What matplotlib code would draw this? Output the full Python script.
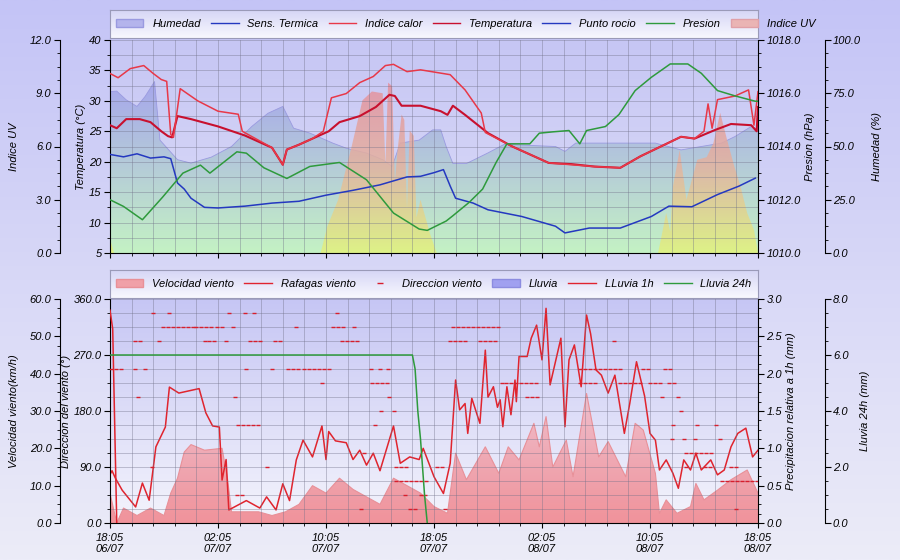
import numpy as np
import matplotlib
matplotlib.use('Agg')
import matplotlib.pyplot as plt
from matplotlib.colors import LinearSegmentedColormap
from matplotlib.patches import Patch, Polygon
from matplotlib.lines import Line2D

plt.rcParams['font.family'] = ['Liberation Sans', 'DejaVu Sans']
plt.rcParams['font.size'] = 8

# hours since 18:05 06/07
tick_labels = ['18:05\n06/07', '02:05\n07/07', '10:05\n07/07', '18:05\n07/07',
               '02:05\n08/07', '10:05\n08/07', '18:05\n08/07']

# ---- top panel data ----
temp_h = [0, 0.5, 1.2, 2.2, 3.0, 3.8, 4.3, 4.6, 5.0, 6.0, 8.0, 10.0, 12.0, 12.8, 13.1, 14.0, 15.0,
          16.2, 17.0, 18.5, 19.7, 20.7, 21.1, 21.6, 23.0, 24.5, 25.0, 25.4, 26.3, 28.0, 29.8, 32.5,
          34.2, 35.9, 37.8, 39.3, 40.8, 42.3, 43.3, 44.8, 46.0, 47.5, 47.9, 48.0]
temp = [26, 25.5, 27, 27, 26.5, 25, 24.2, 24.0, 27.5, 27, 25.8, 24.3, 22.3, 19.5, 22, 22.8, 23.8,
        25, 26.5, 27.5, 29, 31, 30.8, 29.2, 29.2, 28.3, 27.7, 29.2, 27.7, 24.7, 22.5, 19.8,
        19.6, 19.2, 19.0, 20.9, 22.5, 24.1, 23.8, 25.2, 26.2, 26.0, 25.0, 29.0]

calor_h = [0, 0.6, 1.5, 2.5, 3.2, 3.8, 4.2, 4.5, 4.7, 5.2, 6.5, 8.0, 9.5, 9.8, 12.0, 12.8, 13.1,
           14.0, 15.0, 15.8, 16.4, 17.5, 18.5, 19.5, 20.4, 21.0, 22.0, 23.0, 25.2, 26.3, 27.5, 27.8,
           29.8, 32.5, 35.9, 37.8, 39.3, 40.8, 42.3, 43.3, 44.0, 44.3, 44.6, 45.0, 46.3, 47.3, 47.7, 48.0]
calor = [34.5, 33.8, 35.3, 35.8, 34.5, 33.5, 33.2, 24.5, 24, 32, 30, 28.3, 27.8, 25, 22.3, 19.5, 22,
         22.8, 23.8, 25, 30.5, 31.2, 33, 34, 35.8, 36, 34.8, 35.1, 34.3, 31.8, 28, 24.8,
         22.5, 19.8, 19.2, 19.0, 20.9, 22.5, 24.1, 23.8, 25.0, 29.5, 25.5, 30.2, 30.8, 31.8, 26.0, 31.5]

rocio_h = [0, 1, 2, 3, 4, 4.5, 5, 5.5, 6, 7, 8, 10, 12, 14, 16, 18, 20, 22, 23, 24, 24.7, 25.2,
           25.6, 26.9, 28, 30.5, 33, 33.7, 35.5, 37.8, 40.1, 41.4, 43.1, 45, 46.6, 47.8]
rocio = [21.2, 20.8, 21.3, 20.6, 20.8, 20.5, 16.5, 15.5, 14, 12.5, 12.4, 12.7, 13.2, 13.5, 14.5,
         15.3, 16.2, 17.5, 17.6, 18.2, 18.7, 16, 14, 13.2, 12.1, 11, 9.4, 8.3, 9.1, 9.1, 11, 12.7,
         12.6, 14.6, 16, 17.3]

pres_h = [0, 1, 2.4, 3.9, 5.4, 6.7, 7.4, 9.4, 10.1, 11.4, 13.1, 14.8, 17, 19, 21, 22.9, 23.5,
          24.9, 25.4, 26.6, 27.6, 28.6, 29.4, 31.1, 31.8, 32.8, 34, 34.8, 35.3, 36.7, 37.7, 38.9,
          40.1, 41.5, 42.8, 43.8, 45, 46.3, 47.8, 48]
pres = [1012.0, 1011.75, 1011.25, 1012.1, 1013.0, 1013.3, 1013.0, 1013.8, 1013.75, 1013.2, 1012.8,
        1013.25, 1013.4, 1012.75, 1011.5, 1010.9, 1010.85, 1011.2, 1011.4, 1011.9, 1012.4, 1013.4,
        1014.1, 1014.1, 1014.5, 1014.55, 1014.6, 1014.1, 1014.6, 1014.75, 1015.2, 1016.1, 1016.6,
        1017.1, 1017.1, 1016.75, 1016.1, 1015.9, 1015.7, 1015.7]

hum_h = [0, 0.5, 1.2, 2.0, 2.6, 3.3, 3.7, 5.0, 6.0, 7.5, 9.0, 10.5, 11.7, 12.8, 13.6, 14.8, 16.5,
         17.5, 19.0, 20.2, 20.9, 21.5, 22.9, 23.9, 24.5, 24.9, 25.4, 26.4, 28.0, 29.2, 33.0, 33.7,
         34.5, 40.4, 42.3, 45.3, 46.3, 47.5, 48.0]
hum = [75.8, 76, 71.9, 68.8, 73.5, 80.5, 53, 43.8, 42.2, 45, 50, 59.4, 65.6, 68.8, 58.6, 56.3, 51.6,
       49.2, 46.9, 43.8, 40.6, 51.6, 53, 57.8, 57.8, 50, 42, 42, 47, 51, 50, 47.7, 51.6, 51.6, 48.4,
       51.6, 54.7, 59.4, 58]

uv_h = [0, 0.3, 15.6, 16.1, 16.9, 17.9, 18.7, 19.4, 20.2, 20.4, 20.6, 20.9, 21.1, 21.3, 21.6, 21.8,
        22.0, 22.2, 22.5, 22.7, 23.0, 23.7, 24.2, 40.6, 41.2, 41.5, 41.7, 42.2, 42.7, 43.5, 44.2,
        44.7, 45.2, 45.7, 46.2, 46.7, 47.2, 47.7, 48.0]
uv = [0.8, 0, 0, 1.5, 3, 6, 8.6, 9.1, 9.0, 5.0, 9.6, 9.4, 4.0, 5.8, 7.8, 7.5, 2.5, 6.9, 6.6, 2.0,
      3.0, 1.1, 0, 0, 2.25, 1.2, 3.75, 5.8, 3.0, 5.25, 5.4, 6.2, 7.9, 6.4, 5.0, 3.75, 2.25, 1.3, 0]

# ---- bottom panel data ----
raf_h = [0, 0.15, 0.4, 0.9, 1.9, 2.4, 2.9, 3.4, 4.1, 4.4, 5.1, 6.6, 7.1, 7.6, 8.1, 8.3, 8.6, 8.8,
         10.1, 11.1, 11.6, 12.3, 12.8, 13.3, 13.8, 14.3, 15.0, 15.7, 16.0, 16.2, 16.7, 17.5, 18.0,
         18.5, 19.0, 19.5, 20.0, 21.0, 21.5, 22.2, 22.9, 23.2, 24.0, 24.7, 25.2, 25.6, 25.9, 26.3,
         26.5, 26.8, 27.4, 27.8, 28.0, 28.4, 28.7, 28.9, 29.1, 29.4, 29.7, 30.0, 30.1, 30.3, 30.9,
         31.2, 31.6, 32.0, 32.3, 32.6, 33.4, 33.7, 34.0, 34.4, 34.9, 35.3, 35.6, 36.0, 36.4, 36.9,
         37.4, 37.8, 38.1, 38.5, 39.0, 39.6, 40.0, 40.4, 40.7, 41.2, 41.7, 42.1, 42.5, 43.0, 43.4,
         43.8, 44.5, 45.0, 45.5, 46.0, 46.5, 47.1, 47.6, 48.0]
raf = [13, 14, 12, 8.8, 4.3, 10.7, 6.1, 20.4, 25.7, 36.4, 34.8, 36, 29.5, 26, 25.7, 11.5, 17, 3.5,
       6, 4, 7, 3.5, 10.5, 6, 16.9, 22.2, 17.7, 26, 17, 24.5, 22, 21.5, 17,
       19.5, 15.5, 18.7, 14, 26, 16, 17.7, 17, 20, 12.4, 7.9, 16, 38.3, 30.3, 32, 24, 33.4,
       26.7, 46.3, 33.7, 36.5, 31, 33, 25.8, 36.5, 29, 38.3, 32.5, 44.6, 44.6, 49.5, 53, 43.7,
       57.5, 37, 49.5, 25.8, 43.7, 47.7, 36.5, 55.7, 50.7, 41, 39.6, 34.8, 39.6, 30.7, 24, 32,
       43.2, 34, 24, 22.2, 14.2, 16.9, 13.3, 9.3, 16.9, 14.2, 18.7, 14.2, 16.9, 12.9, 14.2, 20.4,
       24, 25.4, 17.7, 19.5]

vel_h = [0, 0.5, 1, 2, 3, 4, 4.5, 5, 5.5, 6, 7, 8.3, 8.7, 9, 10, 11, 12, 13, 14, 15, 16, 17, 18,
         19, 20, 21, 22, 23, 24, 25, 25.6, 26.4, 27.8, 28.8, 29.5, 30.3, 31.4, 31.8, 32.3, 32.8,
         33.8, 34.3, 35.3, 36.2, 36.9, 38.2, 38.9, 39.5, 40.4, 40.7, 41.2, 42.0, 43.0, 43.4, 44.0,
         45.0, 46.0, 47.2, 48.0]
vel = [8, 0, 4, 2, 4, 2, 8, 12, 19, 21, 19.5, 20, 12, 3, 3, 3, 2, 3, 5, 10, 8, 12, 9,
       7, 5, 12, 10, 8, 4.4, 2.6, 18.7, 11.6, 20.4, 13.3, 20.4, 16.9, 26.7, 20.4, 28.5, 15,
       22.2, 12.4, 34.7, 17.7, 21.8, 12.4, 26.7, 24.9, 13.3, 2.6, 6.2, 2.6, 4.4, 10.6, 6.2,
       8.8, 11.6, 14.2, 8]

ll24_h = [0, 22.4, 22.6, 22.8, 23.0, 23.3, 23.5]
ll24 = [6.0, 6.0, 5.5, 4.0, 3.0, 1.0, 0.0]
ll1_h = [0, 0.2, 0.5]
ll1 = [2.85, 2.6, 0.0]

# wind direction runs: (start hour, end hour, degrees)
dir_runs = [(3.2, 3.2, 337.5), (4.4, 4.4, 337.5), (8.8, 8.8, 337.5), (10.0, 10.0, 337.5),
            (10.7, 10.7, 337.5), (16.8, 16.8, 337.5),
            (3.95, 6.2, 315), (6.4, 7.65, 315), (7.9, 8.6, 315), (9.1, 9.1, 315), (13.8, 13.8, 315),
            (16.5, 17.3, 315), (18.1, 18.1, 315), (25.4, 29.0, 315),
            (1.85, 2.35, 292.5), (3.6, 3.6, 292.5), (7.0, 7.9, 292.5), (8.6, 8.9, 292.5),
            (10.4, 11.4, 292.5), (12.2, 12.7, 292.5), (17.2, 18.4, 292.5), (25.2, 26.5, 292.5),
            (27.4, 28.6, 292.5), (37.3, 37.3, 292.5),
            (0.1, 1.2, 247.5), (1.85, 1.85, 247.5), (2.6, 2.6, 247.5), (10.1, 10.1, 247.5),
            (12.0, 12.0, 247.5), (13.2, 14.0, 247.5), (14.4, 16.5, 247.5), (19.3, 19.3, 247.5),
            (20.0, 20.0, 247.5), (20.6, 20.6, 247.5), (34.8, 37.8, 247.5), (39.5, 40.0, 247.5),
            (41.1, 41.5, 247.5),
            (15.7, 15.7, 225), (19.4, 20.5, 225), (29.0, 31.6, 225), (34.8, 36.0, 225),
            (37.8, 39.5, 225), (40.0, 41.0, 225), (41.4, 42.1, 225),
            (2.1, 2.1, 202.5), (9.25, 9.25, 202.5), (20.7, 20.7, 202.5), (30.9, 31.9, 202.5),
            (40.9, 41.1, 202.5), (42.1, 42.2, 202.5),
            (20.1, 20.1, 180), (21.0, 21.0, 180), (42.3, 42.3, 180),
            (9.5, 11.0, 157.5), (19.6, 19.6, 157.5), (41.7, 41.7, 157.5), (43.5, 43.5, 157.5),
            (44.9, 44.9, 157.5),
            (41.6, 41.6, 135), (42.5, 42.5, 135), (43.3, 43.3, 135), (45.2, 45.2, 135),
            (18.8, 18.8, 112.5), (42.7, 44.6, 112.5),
            (3.1, 3.1, 90), (11.6, 11.6, 90), (21.2, 22.2, 90), (24.2, 24.9, 90), (42.7, 43.0, 90),
            (44.1, 44.8, 90), (46.0, 46.4, 90),
            (21.2, 23.6, 67.5), (45.3, 47.9, 67.5),
            (9.4, 9.9, 45), (21.85, 21.85, 45), (23.0, 23.5, 45),
            (18.6, 18.6, 22.5), (22.2, 22.8, 22.5), (24.8, 24.8, 22.5), (46.4, 46.4, 22.5)]

dir_h, dir_v = [], []
for a, b, d in dir_runs:
    for t in np.arange(a, b + 0.01, 0.37):
        dir_h.append(t)
        dir_v.append(d)


def grad_fill(ax, x, y, colors, ylo, yhi, alpha=1.0, z=1):
    # colors listed from bottom to top
    cmap = LinearSegmentedColormap.from_list('g', colors)
    grad = np.linspace(0, 1, 256).reshape(-1, 1)
    im = ax.imshow(grad, cmap=cmap, aspect='auto', origin='lower',
                   extent=[min(x), max(x), ylo, yhi], alpha=alpha, zorder=z)
    verts = [(x[0], ylo)] + list(zip(x, y)) + [(x[-1], ylo)]
    poly = Polygon(verts, closed=True, facecolor='none', edgecolor='none',
                   transform=ax.transData)
    ax.add_patch(poly)
    im.set_clip_path(poly)


fig = plt.figure(figsize=(9, 5.6), dpi=100)
bg = fig.add_axes([0, 0, 1, 1], zorder=-10)
bg.imshow(np.linspace(0, 1, 256).reshape(-1, 1), aspect='auto',
          cmap=LinearSegmentedColormap.from_list('b', ['#c4c4f6', '#ececf8']), extent=[0, 1, 0, 1])
bg.axis('off')

L, W = 110 / 900, 648 / 900
pos_top = [L, 1 - 253 / 560, W, 213 / 560]
pos_bot = [L, 1 - 523 / 560, W, 224 / 560]
OUT_L = 36   # 50 px in points
OUT_R = 48   # 67 px in points
GRID = dict(color='#707088', lw=0.6, alpha=0.45)
ital = dict(style='italic')


def setup_time(ax, labels):
    ax.set_xlim(0, 48)
    ax.set_xticks(range(0, 49, 8))
    ax.set_xticks(np.arange(0, 48.01, 1.6), minor=True)
    if labels:
        ax.set_xticklabels(tick_labels, style='italic', fontsize=8)
    else:
        ax.tick_params(axis='x', which='both', labelbottom=False)


def make_twin(host, side, outward, pos, z):
    a = fig.add_axes(pos, zorder=z, sharex=host)
    a.patch.set_visible(False)
    for s in ['top', 'bottom', 'left', 'right']:
        a.spines[s].set_visible(False)
    a.spines[side].set_visible(True)
    a.spines[side].set_position(('outward', outward))
    if side == 'left':
        a.yaxis.tick_left()
        a.yaxis.set_label_position('left')
    else:
        a.yaxis.tick_right()
        a.yaxis.set_label_position('right')
    a.tick_params(axis='x', which='both', bottom=False, labelbottom=False)
    return a


# ================= TOP PANEL =================
ax_h = fig.add_axes(pos_top, zorder=1)   # humidity, holds background
ax_h.set_ylim(0, 100)
ax_h.imshow(np.linspace(0, 1, 256).reshape(-1, 1), aspect='auto', origin='lower',
            cmap=LinearSegmentedColormap.from_list('t', ['#dcdcf8', '#c6c6f4']),
            extent=[0, 48, 0, 100], zorder=0)
grad_fill(ax_h, hum_h, hum, ['#c4f2c4', '#a6a6ec'], 0, max(hum), z=1)
ax_h.plot(hum_h, hum, color='#9a9ae0', lw=0.6, zorder=2)
ax_h.set_xlim(0, 48)
ax_h.tick_params(axis='x', which='both', bottom=False, labelbottom=False)
ax_h.yaxis.tick_right()
ax_h.yaxis.set_label_position('right')
ax_h.spines['right'].set_position(('outward', OUT_R))
for s in ['top', 'left', 'bottom']:
    ax_h.spines[s].set_visible(False)
ax_h.set_yticks([0, 25, 50, 75, 100])
ax_h.set_yticks(np.arange(0, 101, 6.25), minor=True)
ax_h.set_yticklabels(['0.0', '25.0', '50.0', '75.0', '100.0'], style='italic')
ax_h.set_ylabel('Humedad (%)', **ital)

ax_uv = make_twin(ax_h, 'left', OUT_L, pos_top, 2)
ax_uv.set_ylim(0, 12)
grad_fill(ax_uv, uv_h, uv, ['#e2f27c', '#e4b4a0', '#e4909e'], 0, max(uv), alpha=0.85, z=1)
ax_uv.set_yticks([0, 3, 6, 9, 12])
ax_uv.set_yticks(np.arange(0, 12.1, 0.75), minor=True)
ax_uv.set_yticklabels(['0.0', '3.0', '6.0', '9.0', '12.0'], style='italic')
ax_uv.set_ylabel('Indice UV', **ital)

ax_t = fig.add_axes(pos_top, zorder=3, sharex=ax_h)
ax_t.patch.set_visible(False)
ax_t.set_ylim(5, 40)
ax_t.set_yticks(range(5, 41, 5))
ax_t.set_yticks(np.arange(5, 40.1, 2.5), minor=True)
ax_t.grid(True, which='both', **GRID)
ax_t.plot(temp_h, temp, color='#c8102e', lw=1.5, zorder=4)
ax_t.plot(calor_h, calor, color='#e83848', lw=1.1, zorder=4)
ax_t.plot(rocio_h, rocio, color='#2438c0', lw=1.1, zorder=4)
ax_t.set_ylabel('Temperatura (°C)', **ital)
setup_time(ax_t, False)
ax_t.tick_params(axis='x', which='both', bottom=True)
for s in ['top', 'right']:
    ax_t.spines[s].set_visible(False)
for lab in ax_t.get_yticklabels():
    lab.set_style('italic')

ax_p = make_twin(ax_h, 'right', 0, pos_top, 4)
ax_p.set_ylim(1010, 1018)
ax_p.plot(pres_h, pres, color='#2e9a3c', lw=1.1)
ax_p.set_yticks(range(1010, 1019, 2))
ax_p.set_yticks(np.arange(1010, 1018.1, 0.5), minor=True)
ax_p.set_yticklabels(['%.1f' % v for v in range(1010, 1019, 2)], style='italic')
ax_p.set_ylabel('Presion (hPa)', **ital)

# ================= BOTTOM PANEL =================
ax_v = fig.add_axes(pos_bot, zorder=1)
ax_v.set_ylim(0, 60)
ax_v.imshow(np.linspace(0, 1, 256).reshape(-1, 1), aspect='auto', origin='lower',
            cmap=LinearSegmentedColormap.from_list('t2', ['#f4f4fc', '#c6c6f4']),
            extent=[0, 48, 0, 60], zorder=0)
grad_fill(ax_v, vel_h, vel, ['#f08890', '#f2bcc8'], 0, max(vel), alpha=0.9, z=1)
ax_v.plot(vel_h, vel, color='#e89098', lw=0.8, zorder=2)
ax_v.plot(raf_h, raf, color='#e0242e', lw=1.1, zorder=3)
ax_v.set_xlim(0, 48)
ax_v.tick_params(axis='x', which='both', bottom=False, labelbottom=False)
for s in ['top', 'right', 'bottom']:
    ax_v.spines[s].set_visible(False)
ax_v.spines['left'].set_position(('outward', OUT_L))
ax_v.set_yticks(range(0, 61, 10))
ax_v.set_yticks(np.arange(0, 60.1, 2.5), minor=True)
ax_v.set_yticklabels(['%.1f' % v for v in range(0, 61, 10)], style='italic')
ax_v.set_ylabel('Velocidad viento(km/h)', **ital)

ax_d = fig.add_axes(pos_bot, zorder=3, sharex=ax_v)
ax_d.patch.set_visible(False)
ax_d.set_ylim(0, 360)
ax_d.set_yticks(range(0, 361, 90))
ax_d.set_yticks(np.arange(0, 360.1, 22.5), minor=True)
ax_d.set_yticklabels(['%.1f' % v for v in range(0, 361, 90)], style='italic')
ax_d.grid(True, which='both', **GRID)
ax_d.scatter(dir_h, dir_v, marker='_', s=8, color='#d81e2c', lw=1.0, zorder=4)
ax_d.set_ylabel('Direccion del viento (°)', **ital)
setup_time(ax_d, True)
for s in ['top', 'right']:
    ax_d.spines[s].set_visible(False)

ax_l1 = make_twin(ax_v, 'right', 0, pos_bot, 4)
ax_l1.set_ylim(0, 3)
ax_l1.plot(ll1_h, ll1, color='#e0242e', lw=1.1)
ax_l1.set_yticks(np.arange(0, 3.01, 0.5))
ax_l1.set_yticks(np.arange(0, 3.01, 0.125), minor=True)
ax_l1.set_yticklabels(['%.1f' % v for v in np.arange(0, 3.01, 0.5)], style='italic')
ax_l1.set_ylabel('Precipitacion relativa a 1h (mm)', **ital)

ax_l24 = make_twin(ax_v, 'right', OUT_R, pos_bot, 5)
ax_l24.set_ylim(0, 8)
ax_l24.plot(ll24_h, ll24, color='#2e9a3c', lw=1.1)
ax_l24.set_yticks(range(0, 9, 2))
ax_l24.set_yticks(np.arange(0, 8.1, 0.5), minor=True)
ax_l24.set_yticklabels(['%.1f' % v for v in range(0, 9, 2)], style='italic')
ax_l24.set_ylabel('Lluvia 24h (mm)', **ital)

for a in [ax_h, ax_uv, ax_t, ax_p, ax_v, ax_d, ax_l1, ax_l24]:
    a.yaxis.label.set_size(8)
    a.tick_params(axis='y', which='major', length=4, labelsize=8, pad=2)
    a.tick_params(axis='y', which='minor', length=2)
    a.yaxis.labelpad = 8
for a in [ax_t, ax_d]:
    a.yaxis.labelpad = 2
for a in [ax_p, ax_l1]:
    a.yaxis.labelpad = 3


# ================= LEGENDS =================
def legend_box(y_top_px, handles, labels, ncol):
    rect = [L, 1 - (y_top_px + 28) / 560, W, 28 / 560]
    lax = fig.add_axes(rect, zorder=6)
    lax.imshow(np.linspace(0, 1, 64).reshape(-1, 1), aspect='auto', origin='lower',
               cmap=LinearSegmentedColormap.from_list('l', ['#f8f8fe', '#d6d6f6']),
               extent=[0, 1, 0, 1])
    lax.set_xticks([])
    lax.set_yticks([])
    for s in lax.spines.values():
        s.set_color('#9a9ab8')
    lax.legend(handles, labels, loc='center left', ncol=ncol, frameon=False,
               bbox_to_anchor=(0, 0.5), prop={'style': 'italic', 'size': 8},
               handlelength=2.5, columnspacing=0.9, borderaxespad=0.1, handletextpad=0.8)


top_handles = [Patch(facecolor='#b4b4ec', edgecolor='#9a9ae0'),
               Line2D([], [], color='#2438c0', lw=1),
               Line2D([], [], color='#e83848', lw=1),
               Line2D([], [], color='#c8102e', lw=1),
               Line2D([], [], color='#2438c0', lw=1),
               Line2D([], [], color='#2e9a3c', lw=1),
               Patch(facecolor='#eab4b4', edgecolor='#e0a0a8')]
top_labels = ['Humedad', 'Sens. Termica', 'Indice calor', 'Temperatura', 'Punto rocio',
              'Presion', 'Indice UV']
legend_box(10, top_handles, top_labels, 7)

bot_handles = [Patch(facecolor='#f0a0a8', edgecolor='#e89098'),
               Line2D([], [], color='#e0242e', lw=1),
               Line2D([], [], color='#d81e2c', marker='_', ls='none', markersize=5),
               Patch(facecolor='#a0a0f0', edgecolor='#8c8ce0'),
               Line2D([], [], color='#e0242e', lw=1),
               Line2D([], [], color='#2e9a3c', lw=1)]
bot_labels = ['Velocidad viento', 'Rafagas viento', 'Direccion viento', 'Lluvia',
              'LLuvia 1h', 'Lluvia 24h']
legend_box(270, bot_handles, bot_labels, 6)

fig.savefig('out.png', dpi=100)
